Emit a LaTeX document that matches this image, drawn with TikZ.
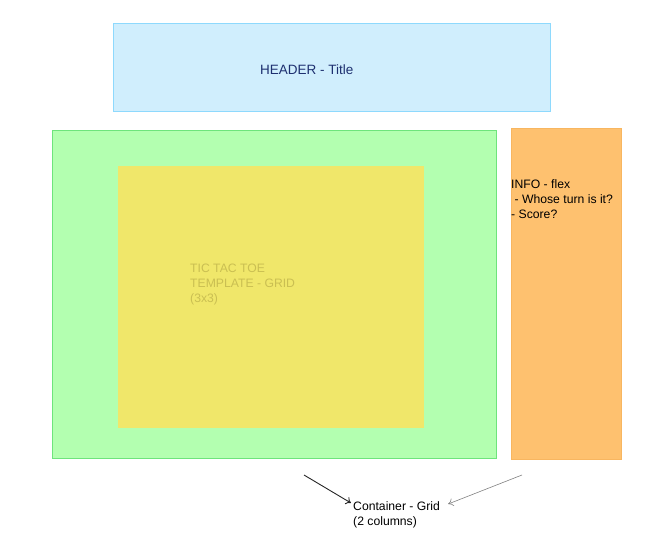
\documentclass[tikz,border=0pt]{standalone}
\usepackage{fontspec}
\setmainfont{Liberation Sans}
\usetikzlibrary{positioning,arrows.meta}
\definecolor{headfill}{HTML}{D0EEFD}
\definecolor{headline}{HTML}{8ED9FD}
\definecolor{headtext}{HTML}{1E3070}
\definecolor{gridfill}{HTML}{B3FFB0}
\definecolor{gridline}{HTML}{6EE47C}
\definecolor{boardfill}{HTML}{F0E76A}
\definecolor{boardtext}{HTML}{CABF52}
\definecolor{infofill}{HTML}{FEC16F}
\definecolor{infoline}{HTML}{F8B660}
\tikzset{
  panel/.style={draw,line width=1pt,inner sep=0pt,anchor=north west},
  label/.style={font=\fontsize{12.2}{15}\selectfont,align=left,inner sep=0pt,anchor=north west},
  pointer/.style={-{To[length=5pt,width=8pt]}}
}
\begin{document}
\begin{tikzpicture}[x=1pt,y=-1pt]
    \useasboundingbox (0,0) rectangle (649,537);
    \begin{scope}[every node/.style={panel}]
        \node[fill=headfill,draw=headline,minimum width=437pt,minimum height=88pt] (header) at (113,23) {};
        \node[fill=gridfill,draw=gridline,minimum width=444pt,minimum height=328pt] (grid) at (52,130) {};
        \node[fill=boardfill,draw=none,minimum width=306pt,minimum height=262pt] (board) at (117,166) {};
        \node[fill=infofill,draw=infoline,minimum width=110pt,minimum height=331pt] (info) at (511,128) {};
    \end{scope}
    \begin{scope}[every node/.style={label}]
        \node[font=\fontsize{13.5}{16}\selectfont,text=headtext] (title) at (260,65) {HEADER - Title};
        \node[text=boardtext] (boardtxt) at (190,264) {TIC TAC TOE\\TEMPLATE - GRID\\(3x3)};
        \node (infotxt) at (511,179) {INFO - flex\\\ - Whose turn is it?\\- Score?};
        \node (container) at (353,501) {Container - Grid\\(2 columns)};
    \end{scope}
    \coordinate (fromleft) at (304,475);
    \coordinate (fromright) at (522,475);
    \draw[pointer,line width=0.9pt,black!85] (fromleft) -- ([xshift=-2pt,yshift=-2pt]container.north west);
    \draw[pointer,line width=0.6pt,black!50] (fromright) -- ([xshift=8pt,yshift=-3pt]container.north east);
\end{tikzpicture}
\end{document}
